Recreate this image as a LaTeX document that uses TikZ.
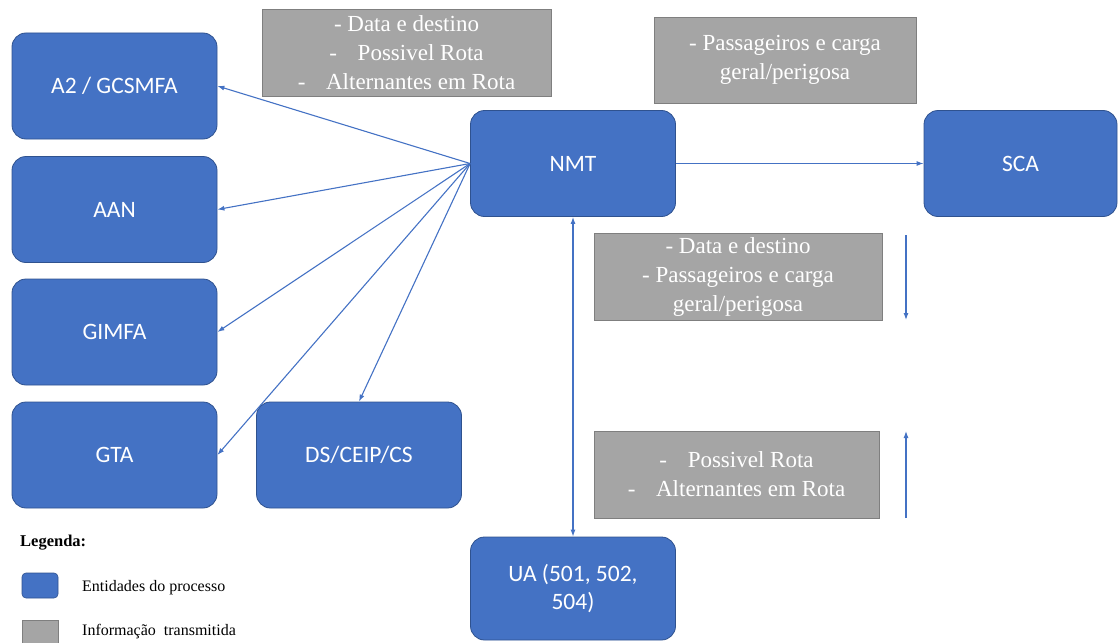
\documentclass[tikz,border=0pt]{standalone}
\usepackage{fontspec}
\setmainfont{Liberation Serif}
\newfontfamily\entfont{Carlito}
\newfontfamily\infofont{Liberation Serif}
\usetikzlibrary{arrows.meta}

\definecolor{entblue}{HTML}{4472C4}
\definecolor{entedge}{HTML}{2F528F}
\definecolor{infogray}{HTML}{A5A5A5}
\definecolor{infoedge}{HTML}{7F7F7F}
\definecolor{linkblue}{HTML}{4472C4}

\begin{document}
\begin{tikzpicture}[x=1pt,y=-1pt,
  entity/.style={draw=entedge, fill=entblue, rounded corners=14pt, line width=0.8pt,
    text=white, font=\entfont\fontsize{23.5}{28}\selectfont, align=center,
    minimum width=205pt, minimum height=106pt, inner sep=0pt},
  info/.style={draw=infoedge, fill=infogray, line width=0.8pt, text=white,
    font=\infofont\fontsize{23}{29}\selectfont, align=center, inner sep=0pt},
  link/.style={draw=linkblue, line width=1.1pt, -{Latex[length=7pt,width=5pt]}},
  legtext/.style={anchor=west, inner sep=0pt, font=\infofont\fontsize{16}{18}\selectfont}
]
\useasboundingbox (0,0) rectangle (1118,642);

% process entities
\node[entity] (a2)   at (114.5,86)    {A2 / GCSMFA};
\node[entity] (aan)  at (114.5,209.5) {AAN};
\node[entity] (gim)  at (114.5,332)   {GIMFA};
\node[entity] (gta)  at (114.5,455)   {GTA};
\node[entity] (ds)   at (359,455)     {DS/CEIP/CS};
\node[entity] (nmt)  at (573,163.5)   {NMT};
\node[entity, minimum width=193pt] (sca) at (1020.5,163.5) {SCA};
\node[entity, minimum height=103pt] (ua) at (573,588.5) {UA (501, 502,\\504)};

% transmitted information
\node[info, minimum width=289pt, minimum height=87pt] (i1) at (406.5,52.5)
  {- Data e destino\\-\hspace{0.9em}Possivel Rota\\-\hspace{0.9em}Alternantes em Rota};
\node[info, minimum width=262pt, minimum height=86pt] (i2) at (785,60)
  {- Passageiros e carga\\geral/perigosa};
\node[info, minimum width=288pt, minimum height=87pt] (i3) at (738,276.5)
  {- Data e destino\\- Passageiros e carga\\geral/perigosa};
\node[info, minimum width=285pt, minimum height=87pt] (i4) at (736.5,474.5)
  {-\hspace{0.9em}Possivel Rota\\-\hspace{0.9em}Alternantes em Rota};

% flows out of NMT
\draw[link] (nmt.west) -- (a2.east);
\draw[link] (nmt.west) -- (aan.east);
\draw[link] (nmt.west) -- (gim.east);
\draw[link] (nmt.west) -- (gta.east);
\draw[link] (nmt.west) -- (ds.north);
\draw[link] (nmt.east) -- (sca.west);
\draw[link, {Latex[length=7pt,width=5pt]}-{Latex[length=7pt,width=5pt]}] (nmt.south) -- (ua.north);

% direction markers beside the information boxes
\coordinate (dtop) at (906,235);
\coordinate (dbot) at (906,320);
\coordinate (ubot) at (906,518);
\coordinate (utop) at (906,431);
\draw[link] (dtop) -- (dbot);
\draw[link] (ubot) -- (utop);

% legend
\node[legtext, font=\infofont\bfseries\fontsize{16.5}{18}\selectfont] (leg) at (20,543) {Legenda:};
\node[draw=entedge, fill=entblue, rounded corners=4pt, line width=0.6pt,
  minimum width=36pt, minimum height=25pt, inner sep=0pt] (legent) at (40,585.5) {};
\node[draw=infoedge, fill=infogray, line width=0.6pt,
  minimum width=36pt, minimum height=26pt, inner sep=0pt] (leginf) at (40,633) {};
\node[legtext] (legenttxt) at (82,588) {Entidades do processo};
\node[legtext] (leginftxt) at (82,632) {Informação\hspace{0.5em}transmitida};
\end{tikzpicture}
\end{document}
